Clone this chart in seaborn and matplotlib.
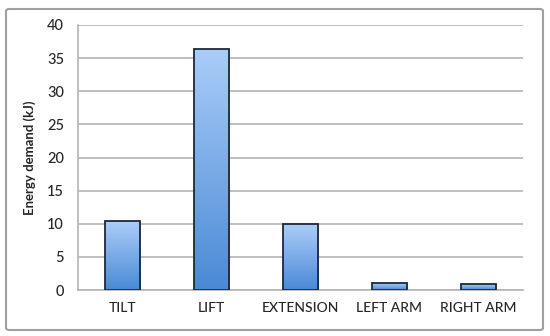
import numpy as np
import pandas as pd
import seaborn as sns
import matplotlib.pyplot as plt
from matplotlib.patches import FancyBboxPatch

categories = ['TILT', 'LIFT', 'EXTENSION', 'LEFT ARM', 'RIGHT ARM']
energy = [10.4, 36.4, 9.9, 1.0, 0.85]
yticks = [0, 5, 10, 15, 20, 25, 30, 35, 40]

df = pd.DataFrame({'part': categories, 'energy': energy})

sns.set_style('white')
plt.rcParams['font.family'] = ['Lato', 'DejaVu Sans']

fig = plt.figure(figsize=(5.5, 3.36), dpi=100)
ax = fig.add_axes([78 / 550, 1 - 290 / 336, 445 / 550, 265 / 336])

sns.barplot(data=df, x='part', y='energy', ax=ax, width=0.4,
            color='#6fa3e6', edgecolor='#1c2a3a', linewidth=1.3, zorder=3)

# vertical gradient in each bar, light at the top, darker at the bottom
grad = np.linspace(0, 1, 256).reshape(-1, 1)
cmap = sns.blend_palette(['#aacdf8', '#4a89d6'], as_cmap=True)
for bar in ax.patches:
    x0, y0 = bar.get_x(), bar.get_y()
    w, h = bar.get_width(), bar.get_height()
    im = ax.imshow(grad, cmap=cmap, aspect='auto', extent=[x0, x0 + w, y0, y0 + h],
                   origin='upper', zorder=2.5, interpolation='bicubic')
    im.set_clip_path(bar)
    bar.set_facecolor('none')

ax.set_xlim(-0.5, 4.5)
ax.set_ylim(0, 40)
ax.set_yticks(yticks)
ax.set_yticklabels([str(t) for t in yticks])
ax.grid(axis='y', color='#b4b4b4', linewidth=1.2, zorder=0)
for s in ['top', 'right']:
    ax.spines[s].set_visible(False)
ax.spines['left'].set_color('#b4b4b4')
ax.spines['bottom'].set_color('#b4b4b4')
ax.spines['left'].set_linewidth(1.2)
ax.spines['bottom'].set_linewidth(1.2)
ax.tick_params(axis='y', length=4, color='#b4b4b4', labelsize=10.5, pad=6)
ax.tick_params(axis='x', length=0, labelsize=10, pad=9)
for lbl in ax.get_xticklabels() + ax.get_yticklabels():
    lbl.set_fontweight('medium')
ax.set_xlabel('')
ax.set_ylabel('Energy demand (kJ)', fontsize=9.5, fontweight='bold', labelpad=8)

border = FancyBboxPatch((6 / 550, 6 / 336), 537 / 550, 321 / 336,
                        boxstyle='round,pad=0,rounding_size=0.006',
                        transform=fig.transFigure, fill=False,
                        edgecolor='#a0a0a0', linewidth=1.5)
fig.patches.append(border)

fig.savefig('out.png', dpi=100)
